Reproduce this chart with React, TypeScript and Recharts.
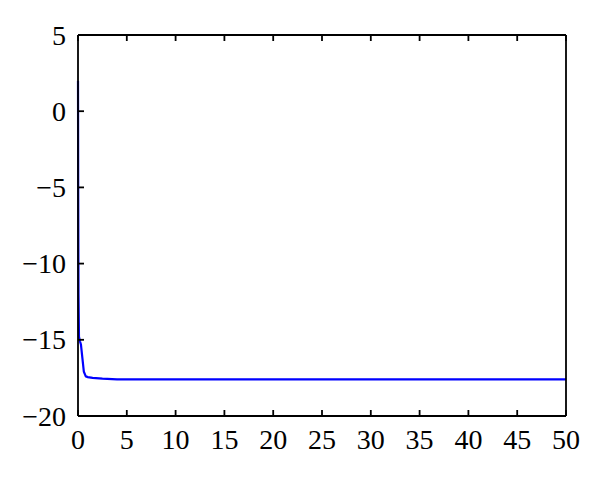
import React from 'react';
import { LineChart, Line, XAxis, YAxis } from 'recharts';

const xValues = [0, 0.02, 0.05, 0.1, 0.2, 0.3, 0.45, 0.6, 0.8, 1.0, 1.5, 2.5, 4, 10, 20, 30, 40, 50];
const yValues = [2, -5, -12, -14.8, -15.1, -15.3, -16.2, -17.1, -17.4, -17.45, -17.5, -17.55, -17.6, -17.6, -17.6, -17.6, -17.6, -17.6];
const xTicks = [0, 5, 10, 15, 20, 25, 30, 35, 40, 45, 50];
const yTicks = [-20, -15, -10, -5, 0, 5];

const data = xValues.map((x, i) => ({ x, y: yValues[i] }));

const FONT = '"Liberation Serif", "DejaVu Serif", serif';
const FS = 28;
const TL = 6;
const fmt = (v: number) => String(v).replace('-', '\u2212');

const LEFT_MARGIN = 12;
const BOTTOM_MARGIN = 14;

const LeftTick = (props: any) => {
  const { x, y, payload } = props;
  const ax = x + LEFT_MARGIN;
  return (
    <g>
      <text x={x} y={y} dy="0.34em" textAnchor="end" fontFamily={FONT} fontSize={FS} fill="#000">
        {fmt(payload.value)}
      </text>
      <line x1={ax} x2={ax + TL} y1={y} y2={y} stroke="#000" strokeWidth={1.8} />
    </g>
  );
};

const BottomTick = (props: any) => {
  const { x, y, payload } = props;
  const ay = y - BOTTOM_MARGIN;
  return (
    <g>
      <text x={x} y={y} dy="0.68em" textAnchor="middle" fontFamily={FONT} fontSize={FS} fill="#000">
        {fmt(payload.value)}
      </text>
      <line x1={x} x2={x} y1={ay} y2={ay - TL} stroke="#000" strokeWidth={1.8} />
    </g>
  );
};

const TopTick = (props: any) => {
  const { x, y } = props;
  return <line x1={x} x2={x} y1={y} y2={y + TL} stroke="#000" strokeWidth={1.8} />;
};

const RightTick = (props: any) => {
  const { x, y } = props;
  return <line x1={x} x2={x - TL} y1={y} y2={y} stroke="#000" strokeWidth={1.8} />;
};

export default function App() {
  return (
    <div style={{ position: 'absolute', left: 0, top: 0, width: 600, height: 478, background: '#fff' }}>
      <LineChart width={600} height={478} data={data} margin={{ top: 34, right: 33, bottom: 0, left: 0 }}>
        <XAxis
          dataKey="x"
          type="number"
          domain={[0, 50]}
          ticks={xTicks}
          height={62}
          tickSize={0}
          tickMargin={BOTTOM_MARGIN}
          tickLine={false}
          axisLine={{ stroke: '#000', strokeWidth: 1.8 }}
          tick={<BottomTick />}
          interval={0}
        />
        <XAxis
          xAxisId="top"
          orientation="top"
          dataKey="x"
          type="number"
          domain={[0, 50]}
          ticks={xTicks}
          height={1}
          tickSize={0}
          tickMargin={0}
          tickLine={false}
          axisLine={{ stroke: '#000', strokeWidth: 1.8 }}
          tick={<TopTick />}
          interval={0}
        />
        <YAxis
          type="number"
          domain={[-20, 5]}
          ticks={yTicks}
          width={78}
          tickSize={0}
          tickMargin={LEFT_MARGIN}
          tickLine={false}
          axisLine={{ stroke: '#000', strokeWidth: 1.8 }}
          tick={<LeftTick />}
          interval={0}
        />
        <YAxis
          yAxisId="right"
          orientation="right"
          type="number"
          domain={[-20, 5]}
          ticks={yTicks}
          width={1}
          tickSize={0}
          tickMargin={0}
          tickLine={false}
          axisLine={{ stroke: '#000', strokeWidth: 1.8 }}
          tick={<RightTick />}
          interval={0}
        />
        <Line
          type="linear"
          dataKey="y"
          stroke="#0000ff"
          strokeWidth={2.2}
          dot={false}
          isAnimationActive={false}
        />
      </LineChart>
    </div>
  );
}
